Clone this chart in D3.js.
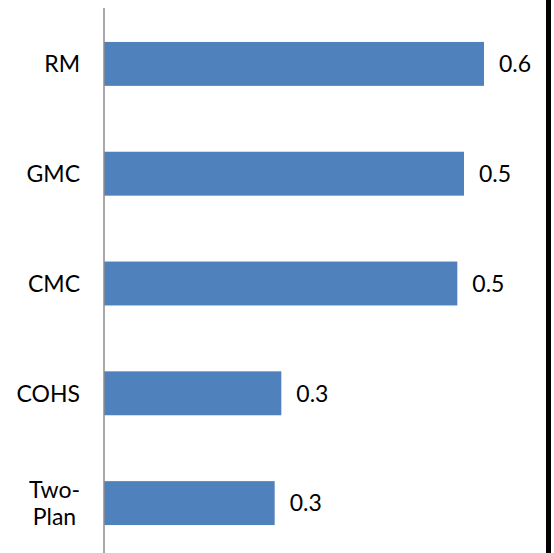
<!DOCTYPE html>
<html>
<head>
<meta charset="utf-8">
<script src="https://cdn.jsdelivr.net/npm/d3@7"></script>
<style>
  html, body { margin: 0; padding: 0; background: #ffffff; }
  svg { display: block; }
  text { font-family: Lato, "Open Sans", sans-serif; fill: #000; }
</style>
</head>
<body>
<svg id="chart" width="554" height="553"></svg>
<script>
// Plan categories, top to bottom
const categories = ["RM", "GMC", "CMC", "COHS", "Two-Plan"];
// Category labels as drawn (line-wrapped)
const categoryLines = [["RM"], ["GMC"], ["CMC"], ["COHS"], ["Two-", "Plan"]];
// Values per plan
const values = [0.57, 0.54, 0.53, 0.266, 0.256];

const W = 554, H = 553;
const svg = d3.select("#chart");

const axisX = 104;
const x = d3.scaleLinear().domain([0, 0.6]).range([axisX, axisX + 400]);
const y = d3.scaleBand().domain(categories).range([9, 558]).paddingInner(0.6).paddingOuter(0.3);

const fmt = d3.format(".1f");
const fontSize = 23;

// Bars
svg.append("g")
  .selectAll("rect")
  .data(categories)
  .join("rect")
  .attr("x", x(0))
  .attr("y", d => y(d))
  .attr("width", (d, i) => x(values[i]) - x(0))
  .attr("height", y.bandwidth())
  .attr("fill", "#4F81BD");

// Category axis line
svg.append("line")
  .attr("x1", axisX).attr("x2", axisX)
  .attr("y1", 8).attr("y2", H)
  .attr("stroke", "#8c8c8c")
  .attr("stroke-width", 1.5);

// Value labels
svg.append("g")
  .selectAll("text")
  .data(categories)
  .join("text")
  .attr("x", (d, i) => x(values[i]) + 15)
  .attr("y", d => y(d) + y.bandwidth() / 2)
  .attr("dy", "0.36em")
  .attr("font-size", fontSize)
  .text((d, i) => fmt(values[i]));

// Category labels: lines centred on each other, block right-aligned to the axis
const labelRight = 80;
const lineH = 27;
categories.forEach((c, i) => {
  const lines = categoryLines[i];
  const cy = y(c) + y.bandwidth() / 2;
  const g = svg.append("g");
  const texts = lines.map((ln, j) =>
    g.append("text")
      .attr("font-size", fontSize)
      .attr("text-anchor", "middle")
      .attr("y", cy + (j - (lines.length - 1) / 2) * lineH)
      .attr("dy", "0.36em")
      .text(ln)
  );
  const maxW = d3.max(texts, t => t.node().getComputedTextLength());
  texts.forEach(t => t.attr("x", labelRight - maxW / 2));
});

// Dark frame edge on the right
svg.append("rect")
  .attr("x", 546).attr("y", 0)
  .attr("width", 5).attr("height", H)
  .attr("fill", "#000");
</script>
</body>
</html>
